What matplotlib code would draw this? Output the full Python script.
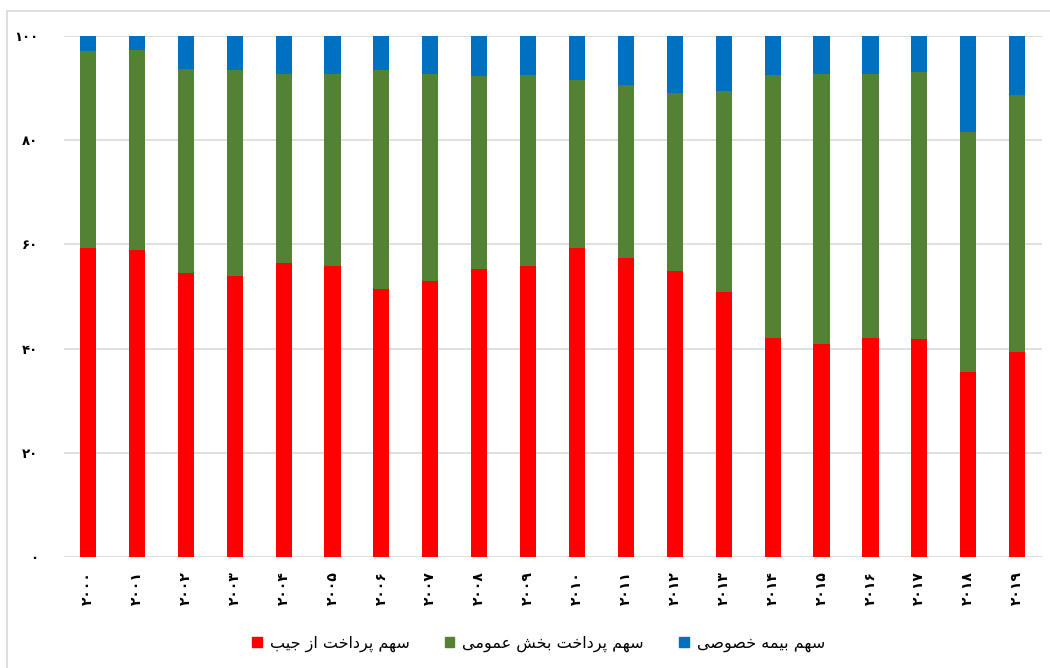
import matplotlib
matplotlib.use("Agg")
import matplotlib.pyplot as plt
from matplotlib.patches import Rectangle
from matplotlib.lines import Line2D
import numpy as np

years = list(range(2000, 2020))
out_of_pocket = [59.3, 59.0, 54.6, 53.9, 56.5, 55.9, 51.5, 53.0, 55.2, 55.9,
                 59.3, 57.4, 54.9, 50.9, 42.1, 40.9, 42.1, 41.8, 35.6, 39.3]
cum_public_top = [97.1, 97.4, 93.7, 93.4, 92.8, 92.8, 93.4, 92.8, 92.4, 92.5,
                  91.6, 90.6, 89.1, 89.4, 92.5, 92.8, 92.8, 93.1, 81.5, 88.7]
public = [round(t - o, 1) for t, o in zip(cum_public_top, out_of_pocket)]
private_ins = [round(100 - t, 1) for t in cum_public_top]

series_names = ["سهم پرداخت از جیب", "سهم پرداخت بخش عمومی", "سهم بیمه خصوصی"]
colors = ["#FF0000", "#548235", "#0070C0"]
yticks = [0, 20, 40, 60, 80, 100]

# ---- minimal Arabic/Persian shaping (matplotlib has no complex text layout)
FORMS = {
    'س': ('\uFEB1', '\uFEB2', '\uFEB3', '\uFEB4'),
    'ه': ('\uFEE9', '\uFEEA', '\uFEEB', '\uFEEC'),
    'م': ('\uFEE1', '\uFEE2', '\uFEE3', '\uFEE4'),
    'پ': ('\uFB56', '\uFB57', '\uFB58', '\uFB59'),
    'ر': ('\uFEAD', '\uFEAE'),
    'د': ('\uFEA9', '\uFEAA'),
    'ا': ('\uFE8D', '\uFE8E'),
    'خ': ('\uFEA5', '\uFEA6', '\uFEA7', '\uFEA8'),
    'ت': ('\uFE95', '\uFE96', '\uFE97', '\uFE98'),
    'ز': ('\uFEAF', '\uFEB0'),
    'ج': ('\uFE9D', '\uFE9E', '\uFE9F', '\uFEA0'),
    'ی': ('\uFBFC', '\uFBFD', '\uFBFE', '\uFBFF'),
    'ب': ('\uFE8F', '\uFE90', '\uFE91', '\uFE92'),
    'ش': ('\uFEB5', '\uFEB6', '\uFEB7', '\uFEB8'),
    'ع': ('\uFEC9', '\uFECA', '\uFECB', '\uFECC'),
    'و': ('\uFEED', '\uFEEE'),
    'ص': ('\uFEB9', '\uFEBA', '\uFEBB', '\uFEBC'),
}

def shape(s):
    out = []
    n = len(s)
    for i, c in enumerate(s):
        if c not in FORMS:
            out.append(c)
            continue
        f = FORMS[c]
        prev = s[i - 1] if i > 0 else None
        nxt = s[i + 1] if i < n - 1 else None
        join_prev = prev in FORMS and len(FORMS[prev]) == 4
        join_next = len(f) == 4 and nxt in FORMS
        if join_prev and join_next:
            out.append(f[3])
        elif join_prev:
            out.append(f[1])
        elif join_next:
            out.append(f[2])
        else:
            out.append(f[0])
    return ''.join(out)[::-1]

def fa_digits(v):
    return str(v).translate(str.maketrans('0123456789', '۰۱۲۳۴۵۶۷۸۹'))

plt.rcParams['font.family'] = ['DejaVu Sans']

fig = plt.figure(figsize=(10.5, 6.68), dpi=100)
ax = fig.add_axes([0.0605, 0.166, 0.9315, 0.780])

x = np.arange(len(years))
bottoms = np.zeros(len(years))
for vals, col in zip([out_of_pocket, public, private_ins], colors):
    ax.bar(x, vals, width=0.33, bottom=bottoms, color=col, zorder=3)
    bottoms += np.array(vals)

ax.set_xlim(-0.5, len(years) - 0.5)
ax.set_ylim(0, 100)
ax.set_yticks(yticks)
ax.set_yticklabels([fa_digits(v) for v in yticks], fontsize=9.5, fontweight='bold')
ax.set_xticks(x)
ax.set_xticklabels([fa_digits(y) for y in years], rotation=90, fontsize=10,
                   fontweight='bold')
ax.tick_params(axis='y', length=0, pad=18)
ax.tick_params(axis='x', length=0, pad=10)
ax.grid(axis='y', color='#d9d9d9', linewidth=1.2, zorder=0)
for sp in ax.spines.values():
    sp.set_visible(False)

# legend
handles = [Rectangle((0, 0), 1, 1, color=c) for c in colors]
leg = fig.legend(handles, [shape(s) for s in series_names], loc='center',
                 bbox_to_anchor=(0.513, 0.036), ncol=3, frameon=False,
                 fontsize=11.5, handlelength=0.6, handleheight=0.6,
                 handletextpad=0.5, columnspacing=2.2)

# chart border (top and left edges visible)
fig.add_artist(Line2D([7/1050, 1.0], [1 - 11/668, 1 - 11/668], color='#d9d9d9',
                      linewidth=1.2, transform=fig.transFigure))
fig.add_artist(Line2D([7/1050, 7/1050], [0.0, 1 - 11/668], color='#d9d9d9',
                      linewidth=1.2, transform=fig.transFigure))

fig.savefig('out.png', dpi=100)
